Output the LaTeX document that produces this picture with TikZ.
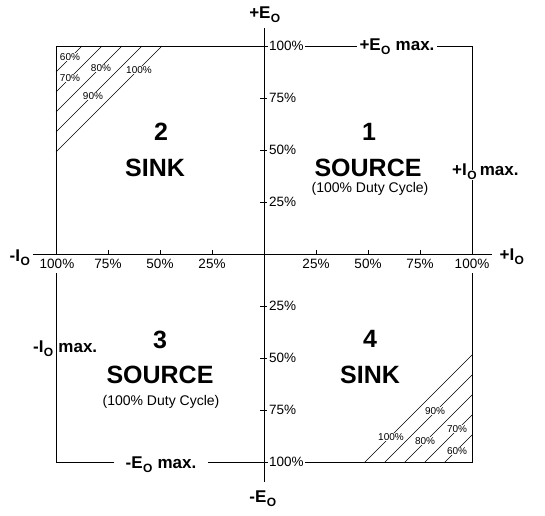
\documentclass[tikz,border=0pt]{standalone}
\usepackage{fontspec}
\setmainfont{Liberation Sans}
\newcommand{\subO}{\raisebox{-4pt}{\fontsize{12}{12}\selectfont\setlength{\fboxsep}{0.4pt}\colorbox{white}{O}}}
\begin{document}
\begin{tikzpicture}[x=1pt,y=-1pt,
  boxline/.style={line width=1pt},
  axisline/.style={line width=1pt},
  hatch/.style={line width=0.6pt},
  ticklbl/.style={font=\fontsize{13.5}{14}\selectfont, fill=white, inner xsep=1pt, inner ysep=4pt},
  hatchlbl/.style={font=\fontsize{10}{10}\selectfont, fill=white, inner sep=0.6pt},
  axlbl/.style={font=\bfseries\fontsize{17}{17}\selectfont, inner sep=1pt},
  bigtxt/.style={font=\bfseries\fontsize{25}{25}\selectfont, inner sep=0pt},
  duty/.style={font=\fontsize{14}{14}\selectfont, inner sep=0pt}]
\useasboundingbox (0,0) rectangle (545,515);
% outer box
\coordinate (TL) at (56,46);
\coordinate (BR) at (472,462);
\draw[boxline] (TL) rectangle (BR);
% hatching
\foreach \k in {0,...,4} {
  \draw[hatch] (56,{72+20*\k}) -- ({82+20*\k},46);
  \draw[hatch] ({365+20*\k},462) -- (472,{355+20*\k});
}
\foreach \x/\y/\t [count=\i] in {70/57/60,70/78/70,101/68/80,93/96/90,139/70/100}
  \node[hatchlbl] (ha\i) at (\x,\y) {\t\%};
\foreach \x/\y/\t [count=\i] in {391/437/100,435/411/90,425/441/80,457/429/70,457/451/60}
  \node[hatchlbl] (hb\i) at (\x,\y) {\t\%};
% tick labels
\foreach \x/\t [count=\i] in {57/100,108/75,160/50,212/25,316/25,368/50,420/75,472/100}
  \node[ticklbl] (hx\i) at (\x,264) {\t\%};
\foreach \y/\t [count=\i] in {46/100,98/75,150/50,202/25,306/25,358/50,410/75,462/100}
  \node[ticklbl,anchor=west] (vy\i) at (268,\y) {\t\%};
% axes
\coordinate (Ytop) at (264,28);
\coordinate (Ybot) at (264,482);
\coordinate (Xl) at (33,254);
\coordinate (Xr) at (492,254);
\draw[axisline] (Ytop) -- (Ybot);
\draw[axisline] (Xl) -- (Xr);
\foreach \x in {108,160,212,316,368,420}
  \draw[axisline] (\x,254) -- (\x,250);
\foreach \y in {98,150,202,306,358,410}
  \draw[axisline] (260,\y) -- (267,\y);
% axis labels
\node[axlbl,anchor=base] (pE) at (265,18) {+E\subO};
\node[axlbl,anchor=base] (mE) at (263,502) {-E\subO};
\node[axlbl,anchor=base] (mI) at (20,261) {-I\subO};
\node[axlbl,anchor=base] (pI) at (512,260) {+I\subO};
\node[axlbl,anchor=base,fill=white,inner xsep=3pt] (pEmax) at (397,50) {+E\subO\ max.};
\node[axlbl,anchor=base,fill=white,inner xsep=12pt] (mEmax) at (161,468) {-E\subO\ max.};
\node[axlbl,anchor=base west] (pImax) at (451,175) {+I\subO\,max.};
\node[axlbl,anchor=base west] (mImax) at (32,352) {-I\subO\ max.};
% quadrant texts
\node[bigtxt] (n2) at (161,132) {2};
\node[bigtxt] (s2) at (155,168) {SINK};
\node[bigtxt] (n1) at (369,132) {1};
\node[bigtxt] (s1) at (368,168) {SOURCE};
\node[duty] (d1) at (370,189) {(100\% Duty Cycle)};
\node[bigtxt] (n3) at (160,340) {3};
\node[bigtxt] (s3) at (160,375) {SOURCE};
\node[duty] (d3) at (161,402) {(100\% Duty Cycle)};
\node[bigtxt] (n4) at (370,339) {4};
\node[bigtxt] (s4) at (370,375) {SINK};
\end{tikzpicture}
\end{document}
